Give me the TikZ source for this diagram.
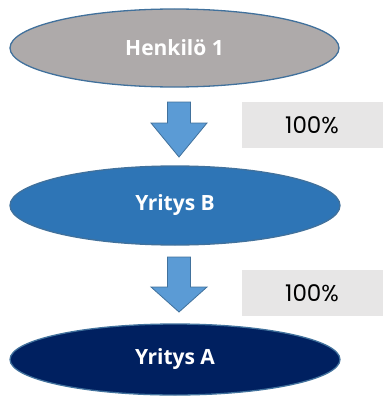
\documentclass[tikz,border=0pt]{standalone}
\usepackage{fontspec}
\setmainfont{Open Sans}
\newfontfamily\prosfont{Poppins}
\usetikzlibrary{shapes.geometric}
\definecolor{harmaa}{RGB}{174,170,170}
\definecolor{keskisininen}{RGB}{46,117,182}
\definecolor{tummasininen}{RGB}{0,32,96}
\definecolor{reuna}{RGB}{65,113,156}
\definecolor{nuolisininen}{RGB}{91,155,213}
\definecolor{vaalea}{RGB}{231,230,230}

\tikzset{
  yhtio/.style={ellipse, draw=reuna, line width=1.3pt, inner sep=0pt,
    text=white, font=\fontsize{21}{24}\selectfont\bfseries},
  osuus/.style={rectangle, fill=vaalea, inner sep=0pt,
    minimum width=141pt, minimum height=46pt,
    font=\prosfont\fontsize{23}{26}\selectfont},
  nuoli/.style={draw=reuna, fill=nuolisininen, line width=0.8pt}
}

\begin{document}
\begin{tikzpicture}[x=1pt,y=-1pt]
            \useasboundingbox (0,0) rectangle (383,396);

            % Omistajat
            \node[yhtio, fill=harmaa, minimum width=329pt, minimum height=78pt] (henkilo) at (174.5,48) {Henkilö 1};
            \node[yhtio, fill=keskisininen, minimum width=330pt, minimum height=79pt] (yritysB) at (175,205.5) {Yritys B};
            \node[yhtio, fill=tummasininen, minimum width=330pt, minimum height=71pt] (yritysA) at (175,359.5) {Yritys A};

            % Omistusosuudet
            \node[osuus] (osuusB) at (312,125.3) {100\%};
            \node[osuus] (osuusA) at (312,293.3) {100\%};

            % Nuolet
            \foreach \yla/\kanta/\karki in {102/123/157, 257/287/312}
              \draw[nuoli] (167.5,\yla) -- (190.5,\yla) -- (190.5,\kanta) -- (207,\kanta)
                -- (179,\karki) -- (151,\kanta) -- (167.5,\kanta) -- cycle;
        \end{tikzpicture}
\end{document}
